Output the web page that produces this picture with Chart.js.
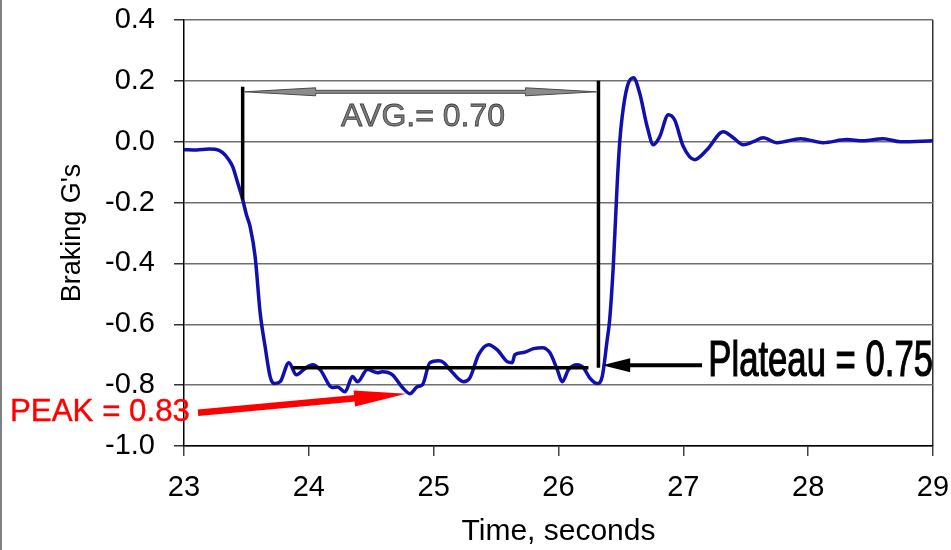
<!DOCTYPE html>
<html>
<head>
<meta charset="utf-8">
<script src="https://cdn.jsdelivr.net/npm/chart.js@4"></script>
<style>
  html, body { margin: 0; padding: 0; background: #fff; }
  #wrap { width: 951px; height: 550px; position: relative; }
</style>
</head>
<body>
<div id="wrap"><canvas id="brakeChart" width="951" height="550"></canvas></div>
<script>
// time (s) and braking G's
var time = [23.00, 23.10, 23.20, 23.25, 23.31, 23.36, 23.39, 23.43, 23.47, 23.50, 23.53, 23.57, 23.61, 23.65, 23.69, 23.72,
  23.77, 23.84, 23.90, 23.97, 24.03, 24.09, 24.19, 24.23, 24.29, 24.35, 24.39, 24.47, 24.55, 24.59, 24.67, 24.75,
  24.81, 24.87, 24.91, 24.97, 25.04, 25.08, 25.13, 25.24, 25.29, 25.36, 25.44, 25.51, 25.59, 25.63, 25.65, 25.72,
  25.80, 25.87, 25.93, 25.99, 26.03, 26.08, 26.15, 26.20, 26.25, 26.31, 26.35, 26.39, 26.41, 26.44, 26.47, 26.49,
  26.51, 26.55, 26.60, 26.65, 26.71, 26.76, 26.81, 26.88, 26.93, 27.00, 27.09, 27.19, 27.32, 27.40, 27.48, 27.56,
  27.64, 27.75, 27.94, 28.12, 28.31, 28.44, 28.60, 28.74, 29.00];
var brakingG = [-0.026, -0.027, -0.024, -0.025, -0.036, -0.060, -0.082, -0.135, -0.190, -0.240, -0.280, -0.378, -0.562, -0.674, -0.772, -0.795,
  -0.789, -0.726, -0.766, -0.745, -0.733, -0.749, -0.808, -0.806, -0.822, -0.772, -0.789, -0.749, -0.759, -0.756, -0.766, -0.808,
  -0.828, -0.805, -0.799, -0.726, -0.720, -0.726, -0.749, -0.789, -0.776, -0.700, -0.667, -0.684, -0.723, -0.726, -0.700, -0.693,
  -0.680, -0.677, -0.693, -0.749, -0.789, -0.749, -0.733, -0.743, -0.776, -0.795, -0.772, -0.651, -0.585, -0.400, -0.140, -0.003,
  0.082, 0.180, 0.210, 0.160, 0.050, -0.010, 0.016, 0.089, 0.072, -0.016, -0.059, -0.026, 0.033, 0.013, -0.010, 0.000,
  0.013, -0.003, 0.010, -0.003, 0.007, 0.003, 0.010, 0.000, 0.003];

var xMin = 23, xMax = 29, xStep = 1;
var yMin = -1.0, yMax = 0.4, yStep = 0.2;

// annotation positions, in data units
var avgStart = 23.47, avgEnd = 26.32;        // braking window
var avgTop = [0.181, 0.200];                 // top of the two bracket lines
var avgArrowY = 0.164;
var avgLabel = "AVG.= 0.70", avgLabelAt = [24.915, 0.082];
var plateauY = -0.743, plateauFrom = 23.87, plateauTo = 26.24;
var plateauArrow = [27.15, 26.35, -0.735];   // from x, to x, y
var plateauLabel = "Plateau = 0.75", plateauLabelAt = [27.2, -0.726];
var peakLabel = "PEAK = 0.83", peakLabelAt = [21.606, -0.891];
var peakArrow = [23.112, -0.891, 24.779, -0.828];

var points = time.map(function (t, i) { return { x: t, y: brakingG[i] }; });

function arrow(ctx, x1, y1, x2, y2, shaft, headLen, headHalf, color) {
  var a = Math.atan2(y2 - y1, x2 - x1), c = Math.cos(a), s = Math.sin(a);
  var bx = x2 - headLen * c, by = y2 - headLen * s;
  ctx.strokeStyle = color; ctx.fillStyle = color; ctx.lineWidth = shaft; ctx.lineCap = "butt";
  ctx.beginPath(); ctx.moveTo(x1, y1); ctx.lineTo(bx + c, by + s); ctx.stroke();
  ctx.beginPath(); ctx.moveTo(x2, y2);
  ctx.lineTo(bx - headHalf * s, by + headHalf * c);
  ctx.lineTo(bx + headHalf * s, by - headHalf * c);
  ctx.closePath(); ctx.fill();
}

function fitText(ctx, text, x, y, font, width, color, thicken) {
  ctx.save();
  ctx.font = font; ctx.textBaseline = "middle"; ctx.textAlign = "left";
  var w = ctx.measureText(text).width;
  ctx.translate(x, y); ctx.scale(width / w, 1);
  ctx.fillStyle = color; ctx.fillText(text, 0, 0);
  if (thicken) { ctx.strokeStyle = color; ctx.lineWidth = thicken; ctx.strokeText(text, 0, 0); }
  ctx.restore();
}

var notes = {
  id: "notes",
  afterDatasetsDraw: function (chart) {
    var ctx = chart.ctx, xs = chart.scales.x, ys = chart.scales.y;
    var px = function (v) { return xs.getPixelForValue(v); };
    var py = function (v) { return ys.getPixelForValue(v); };
    ctx.save();

    // bracket lines
    ctx.strokeStyle = "#000"; ctx.lineWidth = 3.5;
    ctx.beginPath();
    ctx.moveTo(px(avgStart), py(-0.19)); ctx.lineTo(px(avgStart), py(avgTop[0]));
    ctx.moveTo(px(avgEnd), py(plateauY)); ctx.lineTo(px(avgEnd), py(avgTop[1]));
    ctx.stroke();

    // plateau line
    ctx.lineWidth = 3.5;
    ctx.beginPath(); ctx.moveTo(px(plateauFrom), py(plateauY)); ctx.lineTo(px(plateauTo), py(plateauY)); ctx.stroke();

    // grey double arrow
    var l = px(avgStart) + 2, r = px(avgEnd) - 2, ay = py(avgArrowY), hl = 71, hh = 4, sh = 1.5;
    ctx.beginPath();
    ctx.moveTo(l, ay); ctx.lineTo(l + hl, ay - hh); ctx.lineTo(l + hl, ay - sh);
    ctx.lineTo(r - hl, ay - sh); ctx.lineTo(r - hl, ay - hh); ctx.lineTo(r, ay);
    ctx.lineTo(r - hl, ay + hh); ctx.lineTo(r - hl, ay + sh); ctx.lineTo(l + hl, ay + sh);
    ctx.lineTo(l + hl, ay + hh); ctx.closePath();
    ctx.fillStyle = "#8c8c8c"; ctx.fill();
    ctx.strokeStyle = "#4a4a4a"; ctx.lineWidth = 1; ctx.stroke();

    // AVG label
    ctx.font = "32px 'Liberation Sans', Arial, sans-serif";
    ctx.textAlign = "center"; ctx.textBaseline = "middle";
    ctx.fillStyle = "#7c7c7c"; ctx.fillText(avgLabel, px(avgLabelAt[0]), py(avgLabelAt[1]));
    ctx.strokeStyle = "#404040"; ctx.lineWidth = 0.8; ctx.strokeText(avgLabel, px(avgLabelAt[0]), py(avgLabelAt[1]));

    // plateau arrow + label
    arrow(ctx, px(plateauArrow[0]), py(plateauArrow[2]), px(plateauArrow[1]), py(plateauArrow[2]), 4, 28, 7, "#000");
    fitText(ctx, plateauLabel, px(plateauLabelAt[0]), py(plateauLabelAt[1]),
      "50px 'Liberation Sans', Arial, sans-serif", px(xMax) - px(plateauLabelAt[0]), "#000", 1.2);

    // peak arrow + label
    arrow(ctx, px(peakArrow[0]), py(peakArrow[1]), px(peakArrow[2]), py(peakArrow[3]), 6.5, 52, 8, "#ff0000");
    fitText(ctx, peakLabel, px(peakLabelAt[0]), py(peakLabelAt[1]),
      "31px 'Liberation Sans', Arial, sans-serif", 180, "#ff0000", 0.4);

    // frame edge on the left of the picture
    ctx.strokeStyle = "#808080"; ctx.lineWidth = 2;
    ctx.beginPath(); ctx.moveTo(1, 0); ctx.lineTo(1, chart.height); ctx.stroke();
    ctx.restore();
  }
};

new Chart("brakeChart", {
  type: "scatter",
  data: {
    datasets: [{
      data: points,
      showLine: true,
      borderColor: "#1010b0",
      borderWidth: 3.5,
      pointRadius: 0,
      cubicInterpolationMode: "monotone",
      fill: false
    }]
  },
  options: {
    responsive: false,
    animation: false,
    layout: { padding: { left: 0, right: 18, top: 20, bottom: 0 } },
    plugins: { legend: { display: false }, tooltip: { enabled: false } },
    scales: {
      x: {
        type: "linear", min: xMin, max: xMax,
        afterFit: function (axis) { axis.height = 104; axis.paddingLeft = 0; axis.paddingRight = 0; },
        ticks: { stepSize: xStep, padding: 15, color: "#000", font: { family: "'Liberation Sans', Arial", size: 29 } },
        grid: {
          color: function (c) { return c.tick && c.tick.value === xMax ? "#333" : "rgba(0,0,0,0)"; },
          tickColor: "#444", tickLength: 10, lineWidth: 1.5
        },
        border: { color: "#000", width: 1.5 },
        title: { display: true, text: "Time, seconds", color: "#000", padding: { top: 0, bottom: 0 },
          font: { family: "'Liberation Sans', Arial", size: 30 } }
      },
      y: {
        min: yMin, max: yMax,
        afterFit: function (axis) { axis.width = 184; axis.paddingTop = 0; axis.paddingBottom = 0; },
        ticks: { stepSize: yStep, padding: 19, color: "#000", font: { family: "'Liberation Sans', Arial", size: 29 },
          callback: function (v) { return Math.abs(v) < 1e-9 ? "0.0" : Number(v).toFixed(1); } },
        grid: { color: "#6e6e6e", tickColor: "#333", tickLength: 10, lineWidth: 1.5 },
        border: { color: "#000", width: 1.5 },
        title: { display: true, text: "Braking G's", color: "#000", padding: { top: 56, bottom: 0 },
          font: { family: "'Liberation Sans', Arial", size: 27 } }
      }
    }
  },
  plugins: [notes]
});
</script>
</body>
</html>
